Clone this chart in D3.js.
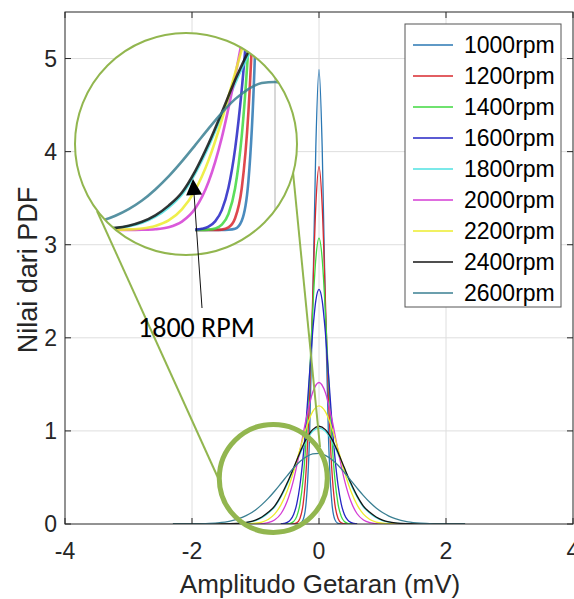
<!DOCTYPE html>
<html>
<head>
<meta charset="utf-8">
<script src="https://cdn.jsdelivr.net/npm/d3@7"></script>
<style>
  body { margin: 0; background: #fff; }
  svg { display: block; }
  text { font-family: "Liberation Sans", Arial, Helvetica, sans-serif; fill: #262626; }
</style>
</head>
<body>
<div id="chart"></div>
<script>
// series names and colours
const rpmLabels = ["1000rpm", "1200rpm", "1400rpm", "1600rpm", "1800rpm", "2000rpm", "2200rpm", "2400rpm", "2600rpm"];
const rpmColors = ["#2a77b3", "#d8282e", "#3fd83f", "#2424c4", "#4fe2e2", "#d43cd4", "#ecec2c", "#141414", "#3a7f92"];

// x grids (mV)
const xFine = [-0.6, -0.55, -0.5, -0.45, -0.4, -0.35, -0.3, -0.25, -0.2, -0.15, -0.1, -0.05, 0,
               0.05, 0.1, 0.15, 0.2, 0.25, 0.3, 0.35, 0.4, 0.45, 0.5, 0.55, 0.6];
const xWide = [-2.3, -2, -1.8, -1.6, -1.4, -1.2, -1.1, -1, -0.9, -0.8, -0.7, -0.6, -0.5, -0.4, -0.3, -0.2, -0.1, 0,
               0.1, 0.2, 0.3, 0.4, 0.5, 0.6, 0.7, 0.8, 0.9, 1, 1.1, 1.2, 1.4, 1.6, 1.8, 2, 2.3];

// PDF values
const y1000 = [0, 0, 0, 0, 0, 0.001, 0.006, 0.047, 0.249, 0.916, 2.32, 4.05, 4.88, 4.05, 2.32, 0.916, 0.249, 0.047, 0.006, 0.001, 0, 0, 0, 0, 0];
const y1200 = [0, 0, 0, 0, 0.002, 0.013, 0.06, 0.214, 0.604, 1.357, 2.42, 3.42, 3.84, 3.42, 2.42, 1.357, 0.604, 0.214, 0.06, 0.013, 0.002, 0, 0, 0, 0];
const y1400 = [0, 0, 0.002, 0.008, 0.027, 0.082, 0.214, 0.483, 0.94, 1.578, 2.28, 2.85, 3.07, 2.85, 2.28, 1.578, 0.94, 0.483, 0.214, 0.082, 0.027, 0.008, 0.002, 0, 0];
const y1600 = [0.002, 0.006, 0.017, 0.044, 0.102, 0.217, 0.416, 0.721, 1.131, 1.606, 2.06, 2.4, 2.52, 2.4, 2.06, 1.606, 1.131, 0.721, 0.416, 0.217, 0.102, 0.044, 0.017, 0.006, 0.002];
const y1800 = [0, 0, 0, 0, 0.002, 0.009, 0.019, 0.037, 0.068, 0.116, 0.182, 0.29, 0.428, 0.588, 0.752, 0.895, 0.995, 1.03,
               0.995, 0.895, 0.752, 0.588, 0.428, 0.29, 0.182, 0.116, 0.068, 0.037, 0.019, 0.009, 0.002, 0, 0, 0, 0];
const y2000 = [0, 0, 0, 0, 0, 0, 0, 0.001, 0.004, 0.014, 0.043, 0.11, 0.246, 0.474, 0.789, 1.136, 1.413, 1.52,
               1.413, 1.136, 0.789, 0.474, 0.246, 0.11, 0.043, 0.014, 0.004, 0.001, 0, 0, 0, 0, 0, 0, 0];
const y2200 = [0, 0, 0, 0, 0, 0.001, 0.003, 0.008, 0.021, 0.049, 0.106, 0.205, 0.357, 0.564, 0.805, 1.037, 1.207, 1.27,
               1.207, 1.037, 0.805, 0.564, 0.357, 0.205, 0.106, 0.049, 0.021, 0.008, 0.003, 0.001, 0, 0, 0, 0, 0];
const y2400 = [0, 0, 0, 0.001, 0.003, 0.011, 0.022, 0.042, 0.075, 0.125, 0.192, 0.302, 0.442, 0.603, 0.769, 0.914, 1.014, 1.05,
               1.014, 0.914, 0.769, 0.603, 0.442, 0.302, 0.192, 0.125, 0.075, 0.042, 0.022, 0.011, 0.003, 0.001, 0, 0, 0];
const y2600 = [0, 0.001, 0.0035, 0.011, 0.03, 0.073, 0.107, 0.151, 0.208, 0.275, 0.352, 0.435, 0.52, 0.601, 0.671, 0.723, 0.754, 0.759,
               0.738, 0.694, 0.631, 0.553, 0.469, 0.385, 0.305, 0.233, 0.172, 0.123, 0.085, 0.057, 0.023, 0.008, 0.0024, 0.001, 0];

const xTicks = [-4, -2, 0, 2, 4];
const yTicks = [0, 1, 2, 3, 4, 5];

const seriesY = [y1000, y1200, y1400, y1600, y1800, y2000, y2200, y2400, y2600];
const seriesX = [xFine, xFine, xFine, xFine, xWide, xWide, xWide, xWide, xWide];

const series = rpmLabels.map((name, i) => ({
  name,
  color: rpmColors[i],
  points: seriesX[i].map((x, j) => ({ x, y: seriesY[i][j] }))
}));

const W = 574, H = 599;
const plot = { left: 65, right: 573, top: 12, bottom: 524 };

const svg = d3.select("#chart").append("svg")
  .attr("width", W)
  .attr("height", H);

svg.append("rect").attr("width", W).attr("height", H).attr("fill", "#fff");

const x = d3.scaleLinear().domain([-4, 4]).range([plot.left, plot.right]);
const y = d3.scaleLinear().domain([0, 5.5]).range([plot.bottom, plot.top]);

// grid
const grid = svg.append("g");
grid.selectAll(".gx").data(xTicks.slice(1, -1)).join("line")
  .attr("x1", d => x(d)).attr("x2", d => x(d))
  .attr("y1", plot.top).attr("y2", plot.bottom)
  .attr("stroke", "#dedede").attr("stroke-width", 1);
grid.selectAll(".gy").data(yTicks.slice(1)).join("line")
  .attr("x1", plot.left).attr("x2", plot.right)
  .attr("y1", d => y(d)).attr("y2", d => y(d))
  .attr("stroke", "#dedede").attr("stroke-width", 1);

svg.append("clipPath").attr("id", "plotclip")
  .append("rect")
  .attr("x", plot.left).attr("y", plot.top)
  .attr("width", plot.right - plot.left).attr("height", plot.bottom - plot.top);

const line = d3.line()
  .x(d => x(d.x))
  .y(d => y(d.y))
  .curve(d3.curveMonotoneX);

svg.append("g").attr("clip-path", "url(#plotclip)")
  .selectAll("path").data(series).join("path")
  .attr("d", d => line(d.points))
  .attr("fill", "none")
  .attr("stroke", d => d.color)
  .attr("stroke-width", 1.3);

// axes box with inward ticks
const axisColor = "#262626";
const tickLen = 6;
const axes = svg.append("g").attr("stroke", axisColor).attr("stroke-width", 1);
axes.append("rect")
  .attr("x", plot.left).attr("y", plot.top)
  .attr("width", plot.right - plot.left).attr("height", plot.bottom - plot.top)
  .attr("fill", "none");
yTicks.forEach(t => {
  axes.append("line").attr("x1", plot.left).attr("x2", plot.left + tickLen).attr("y1", y(t)).attr("y2", y(t));
  axes.append("line").attr("x1", plot.right).attr("x2", plot.right - tickLen).attr("y1", y(t)).attr("y2", y(t));
});
xTicks.forEach(t => {
  axes.append("line").attr("x1", x(t)).attr("x2", x(t)).attr("y1", plot.bottom).attr("y2", plot.bottom - tickLen);
  axes.append("line").attr("x1", x(t)).attr("x2", x(t)).attr("y1", plot.top).attr("y2", plot.top + tickLen);
});

svg.append("g").selectAll("text").data(yTicks).join("text")
  .attr("x", 57).attr("y", d => y(d)).attr("dy", "0.36em")
  .attr("text-anchor", "end")
  .style("font-size", "23px")
  .text(d => d);

svg.append("g").selectAll("text").data(xTicks).join("text")
  .attr("x", d => x(d)).attr("y", 559)
  .attr("text-anchor", "middle")
  .style("font-size", "23px")
  .text(d => d);

svg.append("text")
  .attr("x", 320).attr("y", 593)
  .attr("text-anchor", "middle")
  .style("font-size", "26px")
  .text("Amplitudo Getaran (mV)");

svg.append("text")
  .attr("transform", "translate(37,270) rotate(-90)")
  .attr("text-anchor", "middle")
  .style("font-size", "27px")
  .text("Nilai dari PDF");

// zoom annotation: small circle, connectors, magnified inset
const green = "#92b64f";
const smallC = { cx: x(-0.72), cy: y(0.49), r: 54 };
const bigC = { cx: 186, cy: 144, r: 111 };

svg.append("line")
  .attr("x1", 97).attr("y1", 211).attr("x2", 219).attr("y2", 480)
  .attr("stroke", green).attr("stroke-width", 2);
svg.append("line")
  .attr("x1", 293).attr("y1", 172).attr("x2", 320).attr("y2", 447)
  .attr("stroke", green).attr("stroke-width", 2);

svg.append("circle")
  .attr("cx", smallC.cx).attr("cy", smallC.cy).attr("r", smallC.r)
  .attr("fill", "none").attr("stroke", green).attr("stroke-width", 5);

svg.append("clipPath").attr("id", "insetclip")
  .append("circle").attr("cx", bigC.cx).attr("cy", bigC.cy).attr("r", bigC.r);

svg.append("circle")
  .attr("cx", bigC.cx).attr("cy", bigC.cy).attr("r", bigC.r)
  .attr("fill", "#fff");

const xi = d3.scaleLinear().domain([0, 1]).range([275, 408]);
const yi = d3.scaleLinear().domain([0, 1]).range([230, 35]);
const insetLine = d3.line()
  .x(d => xi(d.x))
  .y(d => yi(d.y))
  .curve(d3.curveMonotoneX);

const inset = svg.append("g").attr("clip-path", "url(#insetclip)");
inset.append("line")
  .attr("x1", xi(0)).attr("x2", xi(0)).attr("y1", yi(0)).attr("y2", bigC.cy - bigC.r)
  .attr("stroke", "#d8d8d8").attr("stroke-width", 2);
inset.selectAll("path").data(series).join("path")
  .attr("d", d => insetLine(d.points))
  .attr("fill", "none")
  .attr("stroke", d => d.color)
  .attr("stroke-width", 2.6)
  .attr("stroke-opacity", 0.85);

svg.append("circle")
  .attr("cx", bigC.cx).attr("cy", bigC.cy).attr("r", bigC.r)
  .attr("fill", "none").attr("stroke", green).attr("stroke-width", 2);

// arrow + label
const from = [202, 308], tip = [193, 179];
const len = Math.hypot(tip[0] - from[0], tip[1] - from[1]);
const ux = (tip[0] - from[0]) / len, uy = (tip[1] - from[1]) / len;
const bx = tip[0] - ux * 16, by = tip[1] - uy * 16;
svg.append("line")
  .attr("x1", from[0]).attr("y1", from[1]).attr("x2", bx).attr("y2", by)
  .attr("stroke", "#111").attr("stroke-width", 1);
svg.append("polygon")
  .attr("points", [tip, [bx - uy * 8, by + ux * 8], [bx + uy * 8, by - ux * 8]].map(p => p.join(",")).join(" "))
  .attr("fill", "#000");
svg.append("text")
  .attr("x", 138).attr("y", 337)
  .style("font-family", "Carlito, Lato, sans-serif")
  .style("font-size", "28px")
  .style("fill", "#000")
  .text("1800 RPM");

// legend
const legend = svg.append("g");
legend.append("rect")
  .attr("x", 405).attr("y", 24).attr("width", 156).attr("height", 283)
  .attr("fill", "#fff").attr("stroke", "#555").attr("stroke-width", 1);
const rows = legend.selectAll("g.row").data(series).join("g")
  .attr("transform", (d, i) => `translate(0,${45 + i * 31})`);
rows.append("line")
  .attr("x1", 413).attr("x2", 453)
  .attr("stroke", d => d.color).attr("stroke-width", 1.5);
rows.append("text")
  .attr("x", 464).attr("dy", "0.36em")
  .style("font-size", "23px")
  .style("fill", "#000")
  .text(d => d.name);
</script>
</body>
</html>
